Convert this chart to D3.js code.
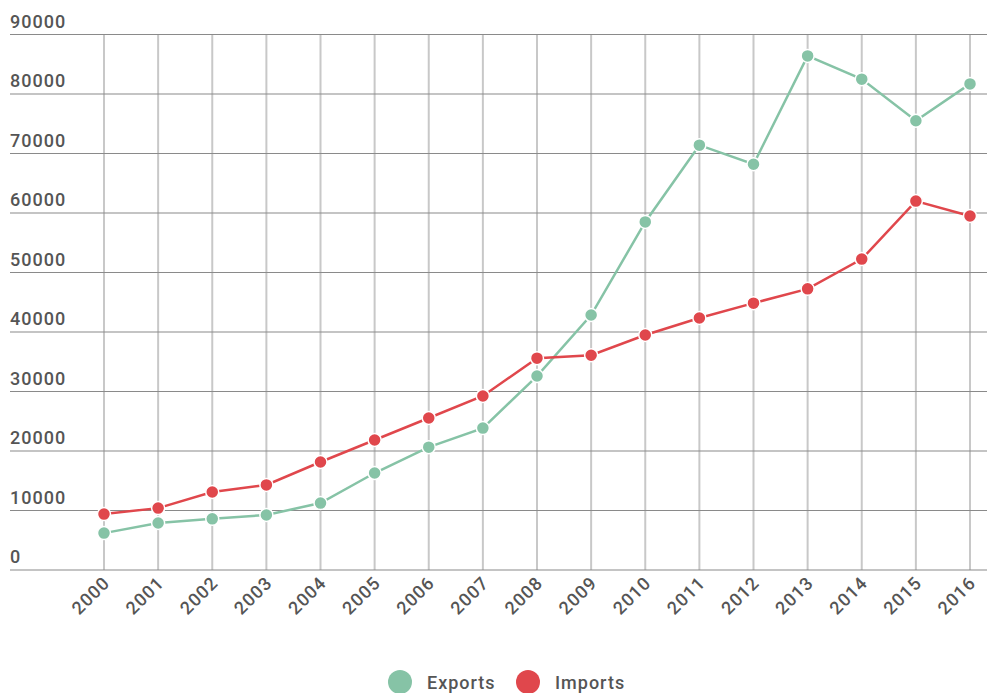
<!DOCTYPE html>
<html>
<head>
<meta charset="utf-8">
<script src="https://cdn.jsdelivr.net/npm/d3@7"></script>
<style>
  body { margin: 0; background: #fff; }
  text { font-family: Roboto, "Noto Sans", sans-serif; }
</style>
</head>
<body>
<div id="chart"></div>
<script>
'use strict'

const years = ['2000','2001','2002','2003','2004','2005','2006','2007','2008',
               '2009','2010','2011','2012','2013','2014','2015','2016'];
const exportsVals = [6200, 7900, 8600, 9250, 11250, 16300, 20650, 23850, 32600,
                     42850, 58500, 71400, 68200, 86400, 82500, 75500, 81700];
const importsVals = [9400, 10400, 13100, 14300, 18150, 21850, 25550, 29250, 35600,
                     36100, 39500, 42350, 44850, 47250, 52250, 62000, 59500];
const yTicks = [0, 10000, 20000, 30000, 40000, 50000, 60000, 70000, 80000, 90000];
const seriesNames = ['Exports', 'Imports'];
const seriesColors = ['#86c3a6', '#e0474c'];

const width = 987, height = 693;

const svg = d3.select('#chart')
    .append('svg')
    .attr('width', width)
    .attr('height', height);

const x = d3.scalePoint()
    .domain(years)
    .range([104, 970]);

const y = d3.scaleLinear()
    .domain([0, 90000])
    .range([570, 34.5]);

// vertical grid
svg.append('g')
    .selectAll('line')
    .data(years)
    .enter().append('line')
    .attr('x1', d => x(d))
    .attr('x2', d => x(d))
    .attr('y1', y(90000))
    .attr('y2', y(0))
    .style('stroke', '#c8c8c8')
    .style('stroke-width', 2);

// horizontal grid
svg.append('g')
    .selectAll('line')
    .data(yTicks)
    .enter().append('line')
    .attr('x1', 10)
    .attr('x2', width)
    .attr('y1', d => y(d))
    .attr('y2', d => y(d))
    .style('stroke', '#8a8a8a')
    .style('stroke-width', 1.2);

// y labels
svg.append('g')
    .selectAll('text')
    .data(yTicks)
    .enter().append('text')
    .attr('x', 10)
    .attr('y', d => y(d) - 7)
    .text(d => d)
    .style('font-size', '18px')
    .style('letter-spacing', '1px')
    .style('font-weight', 500)
    .style('fill', '#555');

// x labels
svg.append('g')
    .selectAll('text')
    .data(years)
    .enter().append('text')
    .attr('transform', d => 'translate(' + (x(d) + 7) + ',' + 584 + ') rotate(-45)')
    .attr('text-anchor', 'end')
    .text(d => d)
    .style('font-size', '18px')
    .style('letter-spacing', '1px')
    .style('font-weight', 500)
    .style('fill', '#555');

const series = [exportsVals, importsVals];
const line = d3.line()
    .x((d, i) => x(years[i]))
    .y(d => y(d));

series.forEach((vals, s) => {
    svg.append('path')
        .datum(vals)
        .attr('d', line)
        .style('fill', 'none')
        .style('stroke', seriesColors[s])
        .style('stroke-width', 2.5);
});

series.forEach((vals, s) => {
    svg.append('g')
        .selectAll('circle')
        .data(vals)
        .enter().append('circle')
        .attr('cx', (d, i) => x(years[i]))
        .attr('cy', d => y(d))
        .attr('r', 6.5)
        .style('fill', seriesColors[s])
        .style('stroke', '#fff')
        .style('stroke-width', 1.5);
});

// legend
const legend = svg.append('g')
    .selectAll('g')
    .data(seriesNames)
    .enter().append('g')
    .attr('transform', (d, i) => 'translate(' + (400 + i * 128) + ',682)');

legend.append('circle')
    .attr('r', 12)
    .style('fill', (d, i) => seriesColors[i]);

legend.append('text')
    .attr('x', 27)
    .attr('y', 6.5)
    .text(d => d)
    .style('font-size', '18px')
    .style('letter-spacing', '1px')
    .style('font-weight', 500)
    .style('fill', '#555');
</script>
</body>
</html>
